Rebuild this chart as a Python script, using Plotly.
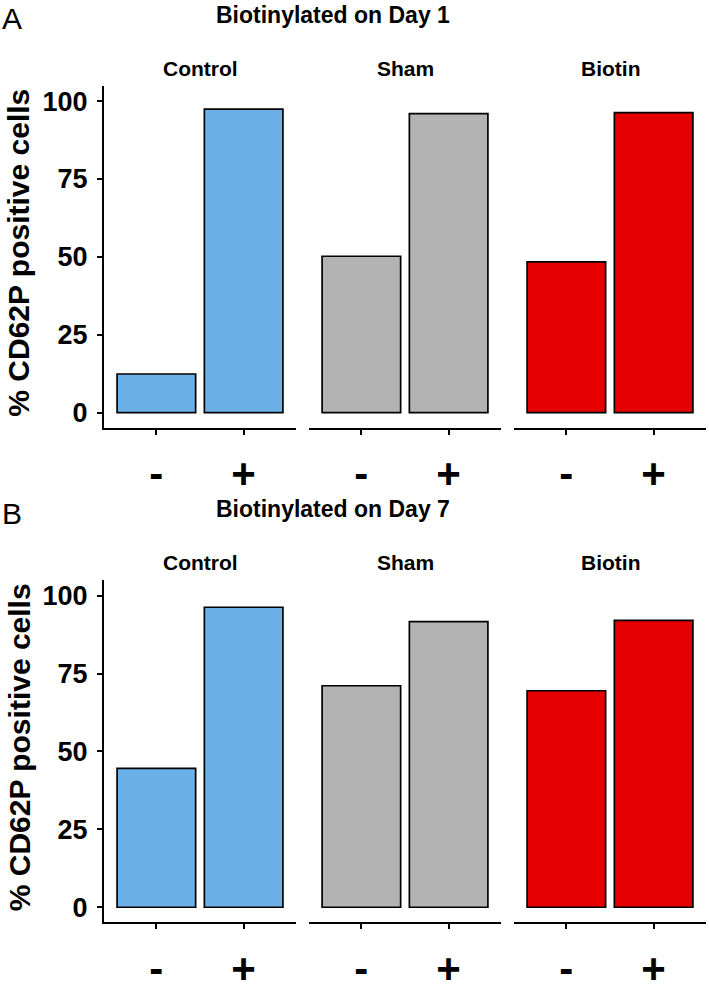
import plotly.graph_objects as go

groups = ["Control", "Sham", "Biotin"]
categories = ["-", "+"]
day1_values = {"Control": [12.4, 97.4], "Sham": [50.2, 96.0], "Biotin": [48.4, 96.3]}
day7_values = {"Control": [44.6, 96.3], "Sham": [71.1, 91.7], "Biotin": [69.5, 92.1]}
row_titles = ["Biotinylated on Day 1", "Biotinylated on Day 7"]
panel_letters = ["A", "B"]
y_ticks = [0, 25, 50, 75, 100]
y_title = "% CD62P positive cells"
colors = {"Control": "#6BB1E8", "Sham": "#B3B3B3", "Biotin": "#E50000"}

W, H = 709, 992
FONT = "Liberation Sans, Arial, sans-serif"


def px(x):
    return x / W


def py(y):
    return 1 - y / H


# pixel geometry of panels (window coordinates)
col_px = [(104, 296), (309, 501), (514, 706)]
ROW_SHIFT = 509
row_px = [(88, 440), (88 + ROW_SHIFT, 440 + ROW_SHIFT)]
X_LO, X_HI = -0.6, 1.6

fig = go.Figure()
layout = {}
annotations = []

for r, vals in enumerate([day1_values, day7_values]):
    dy = r * ROW_SHIFT
    for c, g in enumerate(groups):
        k = r * 3 + c + 1
        xa = "x" if k == 1 else f"x{k}"
        ya = "y" if k == 1 else f"y{k}"
        fig.add_trace(go.Bar(
            x=categories, y=vals[g], xaxis=xa, yaxis=ya,
            width=0.9,
            marker=dict(color=colors[g], line=dict(color="black", width=1.7)),
            showlegend=False, hoverinfo="x+y",
        ))
        x0, x1 = col_px[c]
        y0, y1 = row_px[r]
        xkey = "xaxis" if k == 1 else f"xaxis{k}"
        ykey = "yaxis" if k == 1 else f"yaxis{k}"
        layout[xkey] = dict(
            domain=[px(x0), px(x1)], anchor=ya,
            type="category", categoryorder="array", categoryarray=categories,
            range=[X_LO, X_HI], showline=True, linecolor="black", linewidth=2,
            ticks="outside", ticklen=5, tickwidth=1.5, tickcolor="black",
            tickfont=dict(family=FONT, size=42, color="black", weight="bold"),
            ticklabelstandoff=3,
            showgrid=False, zeroline=False, fixedrange=True,
        )
        ydict = dict(
            domain=[py(y1), py(y0)], anchor=xa,
            range=[-4.8, 105], showgrid=False, zeroline=False, fixedrange=True,
        )
        if c == 0:
            ydict.update(
                showline=True, linecolor="black", linewidth=2,
                ticks="outside", ticklen=5, tickwidth=1.5, tickcolor="black",
                tickvals=y_ticks, ticktext=[str(v) for v in y_ticks],
                tickfont=dict(family=FONT, size=27, color="black", weight="bold"),
                ticklabelstandoff=4,
            )
        else:
            ydict.update(showline=False, showticklabels=False, ticks="")
        layout[ykey] = ydict

        # facet label
        annotations.append(dict(
            text=f"<b>{g}</b>", x=px((x0 + x1) / 2), y=py(70 + dy),
            xref="paper", yref="paper", xanchor="center", yanchor="middle",
            showarrow=False, font=dict(family=FONT, size=21, color="black"),
        ))

    # row title
    annotations.append(dict(
        text=f"<b>{row_titles[r]}</b>", x=px(333), y=py(15 + dy),
        xref="paper", yref="paper", xanchor="center", yanchor="middle",
        showarrow=False, font=dict(family=FONT, size=23, color="black"),
    ))
    # panel letter
    annotations.append(dict(
        text=panel_letters[r], x=px(0), y=py(19 + dy),
        xref="paper", yref="paper", xanchor="left", yanchor="middle",
        showarrow=False, font=dict(family=FONT, size=30, color="black"),
    ))
    # y-axis title
    annotations.append(dict(
        text=f"<b>{y_title}</b>", x=px(19), y=py(260 + dy),
        xref="paper", yref="paper", xanchor="center", yanchor="middle",
        textangle=-90, showarrow=False,
        font=dict(family=FONT, size=30, color="black"),
    ))

fig.update_layout(
    width=W, height=H, autosize=False,
    margin=dict(l=0, r=0, t=0, b=0),
    paper_bgcolor="white", plot_bgcolor="white",
    annotations=annotations, bargap=0.1,
    **layout,
)

fig.write_html(
    "out.html",
    config={"displayModeBar": False},
    post_script="document.body.style.margin='0px';",
)
